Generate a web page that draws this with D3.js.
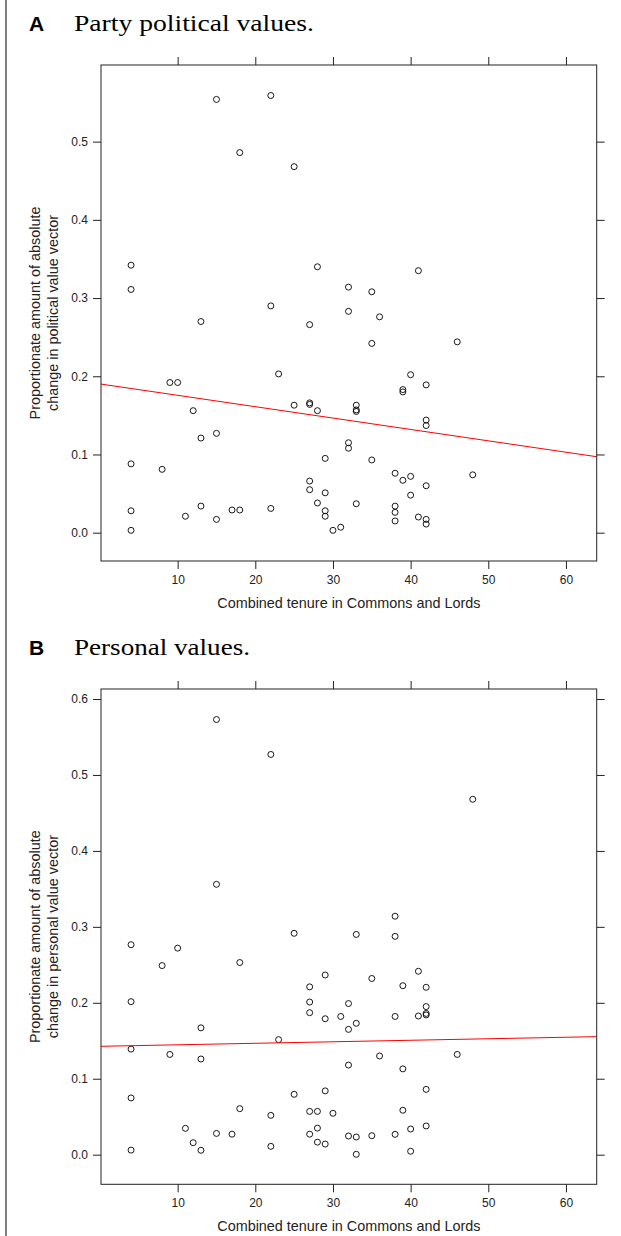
<!DOCTYPE html>
<html lang="en">
<head>
<meta charset="UTF-8">
<title>Tenure vs value change</title>
<script src="https://d3js.org/d3.v7.min.js"></script>
<style>
  body { margin: 0; background: #fff; }
  text { font-family: "Liberation Sans", Arial, sans-serif; }
</style>
</head>
<body>
<script>
var width = 621, height = 1236;

// A: party political values
var tenureA = [15,22,18,25,4,4,28,22,41,32,35,32,36,13,27,23,9,10,12,25,27,27,28,13,15,4,8,4,4,11,13,15,17,18,22,27,27,28,
               35,46,40,42,39,39,33,33,33,42,42,32,32,29,35,38,40,39,48,42,29,40,33,38,38,38,29,29,41,42,42,31,30];
var changeA = [0.554,0.559,0.486,0.468,0.342,0.311,0.340,0.290,0.335,0.314,0.308,0.283,0.276,0.270,0.266,0.203,0.192,0.192,
               0.156,0.163,0.166,0.164,0.156,0.121,0.127,0.088,0.081,0.028,0.003,0.021,0.034,0.017,0.029,0.029,0.031,0.066,0.055,0.038,
               0.242,0.244,0.202,0.189,0.183,0.180,0.163,0.157,0.155,0.144,0.137,0.115,0.108,0.095,0.093,0.076,0.072,0.067,0.074,
               0.060,0.051,0.048,0.037,0.034,0.026,0.015,0.028,0.021,0.020,0.017,0.011,0.007,0.003];
var fitA = [0.1902, -0.001455]; // intercept, slope

// B: personal values
var tenureB = [15,22,15,25,4,10,48,38,33,38,8,18,27,4,27,27,13,23,4,9,13,25,4,18,22,27,28,11,12,13,15,17,22,4,27,28,28,
               29,35,41,39,42,32,42,31,29,38,41,42,42,33,32,36,46,32,39,29,42,30,39,32,33,35,38,40,42,29,33,40];
var changeB = [0.573,0.527,0.356,0.2915,0.2765,0.272,0.468,0.314,0.290,0.2875,0.249,0.253,0.221,0.2015,0.201,0.187,0.167,0.1515,
               0.139,0.132,0.126,0.0795,0.0747,0.0606,0.0518,0.057,0.057,0.0347,0.0158,0.0058,0.028,0.027,0.011,0.006,0.027,0.035,0.0165,
               0.2366,0.232,0.2415,0.2225,0.2204,0.199,0.195,0.182,0.179,0.182,0.1826,0.186,0.184,0.173,0.165,0.130,0.132,0.118,0.113,
               0.084,0.086,0.0545,0.0585,0.0246,0.0233,0.025,0.0268,0.0338,0.0378,0.014,0.0005,0.0045];
var fitB = [0.1427, 0.000199];

var xTicks = [10, 20, 30, 40, 50, 60];
var yTicksA = [0, 0.1, 0.2, 0.3, 0.4, 0.5];
var yTicksB = [0, 0.1, 0.2, 0.3, 0.4, 0.5, 0.6];
var xLabel = "Combined tenure in Commons and Lords";

var panels = [
  {letter: "A", title: "Party political values.", titleW: 240, titleY: 31,
   ylab: ["Proportionate amount of absolute", "change in political value vector"],
   xs: tenureA, ys: changeA, fit: fitA, yTicks: yTicksA,
   top: 65, bottom: 561, yDomain: [-0.0362, 0.598]},
  {letter: "B", title: "Personal values.", titleW: 176, titleY: 655,
   ylab: ["Proportionate amount of absolute", "change in personal value vector"],
   xs: tenureB, ys: changeB, fit: fitB, yTicks: yTicksB,
   top: 689, bottom: 1184.3, yDomain: [-0.039, 0.6132]}
];

var left = 101, right = 596.7, ink = "#222";

var svg = d3.select("body").append("svg")
    .attr("width", width)
    .attr("height", height);

// border line on the left
svg.append("line")
    .attr("x1", 6).attr("x2", 6).attr("y1", 0).attr("y2", height)
    .attr("stroke", "#555").attr("stroke-width", 1.5);

var x = d3.scaleLinear().domain([0.13, 63.96]).range([left, right]);

panels.forEach(function(p, i) {
  var y = d3.scaleLinear().domain(p.yDomain).range([p.bottom, p.top]);
  var g = svg.append("g");

  // heading
  g.append("text").attr("x", 29).attr("y", p.titleY)
      .style("font-size", "21px").style("font-weight", "bold").text(p.letter);
  g.append("text").attr("x", 74).attr("y", p.titleY)
      .attr("textLength", p.titleW).attr("lengthAdjust", "spacingAndGlyphs")
      .style("font-family", "'Liberation Serif', serif").style("font-size", "24px")
      .text(p.title);

  // axes
  var ax = [
    g.append("g").attr("transform", "translate(0," + p.bottom + ")")
      .call(d3.axisBottom(x).tickValues(xTicks).tickSize(8).tickPadding(6.5).tickFormat(d3.format("d"))),
    g.append("g").attr("transform", "translate(0," + p.top + ")")
      .call(d3.axisTop(x).tickValues(xTicks).tickSize(8).tickFormat("")),
    g.append("g").attr("transform", "translate(" + left + ",0)")
      .call(d3.axisLeft(y).tickValues(p.yTicks).tickSize(8).tickPadding(5).tickFormat(d3.format(".1f"))),
    g.append("g").attr("transform", "translate(" + right + ",0)")
      .call(d3.axisRight(y).tickValues(p.yTicks).tickSize(8).tickFormat(""))
  ];
  ax.forEach(function(a) {
    a.select(".domain").remove();
    a.selectAll("line").attr("stroke", ink);
    a.selectAll("text").attr("fill", "#222")
        .style("font-family", "'Liberation Sans', Arial, sans-serif").style("font-size", "12px");
  });

  // clip + box
  g.append("clipPath").attr("id", "clip" + i)
    .append("rect").attr("x", left).attr("y", p.top)
    .attr("width", right - left).attr("height", p.bottom - p.top);

  var pts = p.xs.map(function(d, j) { return [d, p.ys[j]]; });

  g.append("g").attr("clip-path", "url(#clip" + i + ")")
    .selectAll("circle").data(pts).enter().append("circle")
      .attr("cx", function(d) { return x(d[0]); })
      .attr("cy", function(d) { return y(d[1]); })
      .attr("r", 3)
      .attr("fill", "none")
      .attr("stroke", "#000")
      .attr("stroke-width", 0.9);

  var xd = x.domain();
  g.append("line").attr("clip-path", "url(#clip" + i + ")")
      .attr("x1", x(xd[0])).attr("y1", y(p.fit[0] + p.fit[1] * xd[0]))
      .attr("x2", x(xd[1])).attr("y2", y(p.fit[0] + p.fit[1] * xd[1]))
      .attr("stroke", "red").attr("stroke-width", 1);

  g.append("rect").attr("x", left).attr("y", p.top)
      .attr("width", right - left).attr("height", p.bottom - p.top)
      .attr("fill", "none").attr("stroke", ink).attr("stroke-width", 1);

  // axis titles
  g.append("text")
      .attr("x", (left + right) / 2).attr("y", p.bottom + 47)
      .attr("text-anchor", "middle").attr("fill", "#222")
      .style("font-size", "14.4px").text(xLabel);

  var mid = (p.top + p.bottom) / 2;
  p.ylab.forEach(function(s, k) {
    g.append("text")
        .attr("transform", "translate(" + (40 + k * 18) + "," + mid + ") rotate(-90)")
        .attr("text-anchor", "middle").attr("fill", "#222")
        .style("font-size", "14.4px").text(s);
  });
});
</script>
</body>
</html>
